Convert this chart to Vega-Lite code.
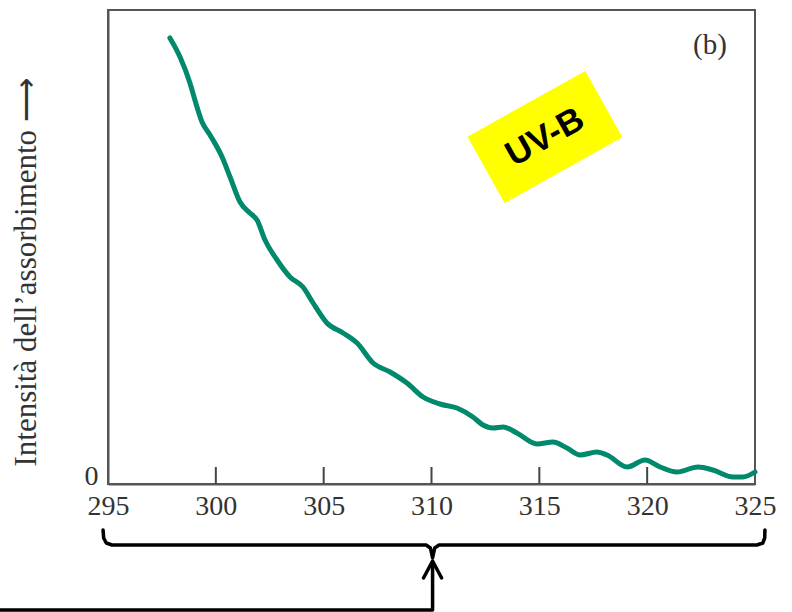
{
  "$schema": "https://vega.github.io/schema/vega-lite/v6.json",
  "width": 647,
  "height": 474,
  "autosize": {"type": "none"},
  "padding": {"left": 108, "top": 10, "right": 37, "bottom": 128},
  "background": "white",
  "view": {"stroke": "#555555", "strokeWidth": 2},
  "config": {"font": "Liberation Serif"},
  "datasets": {
    "curve": [
      {"wl": 297.87, "abs": 446}, {"wl": 298.34, "abs": 427}, {"wl": 298.80, "abs": 401},
      {"wl": 299.03, "abs": 384}, {"wl": 299.36, "abs": 362}, {"wl": 299.73, "abs": 349},
      {"wl": 300.29, "abs": 327}, {"wl": 300.66, "abs": 307}, {"wl": 301.12, "abs": 282},
      {"wl": 301.58, "abs": 271}, {"wl": 301.91, "abs": 264}, {"wl": 302.28, "abs": 244},
      {"wl": 302.84, "abs": 224}, {"wl": 303.44, "abs": 207}, {"wl": 304.04, "abs": 197},
      {"wl": 304.51, "abs": 181}, {"wl": 305.15, "abs": 161}, {"wl": 305.90, "abs": 151},
      {"wl": 306.55, "abs": 141}, {"wl": 307.29, "abs": 121}, {"wl": 308.08, "abs": 112},
      {"wl": 308.86, "abs": 101}, {"wl": 309.61, "abs": 87}, {"wl": 310.39, "abs": 80},
      {"wl": 311.18, "abs": 76}, {"wl": 311.92, "abs": 67}, {"wl": 312.39, "abs": 59},
      {"wl": 312.85, "abs": 56}, {"wl": 313.32, "abs": 57}, {"wl": 313.96, "abs": 51},
      {"wl": 314.89, "abs": 40}, {"wl": 315.63, "abs": 42}, {"wl": 316.28, "abs": 36},
      {"wl": 316.89, "abs": 29}, {"wl": 317.67, "abs": 32}, {"wl": 318.14, "abs": 29},
      {"wl": 319.07, "abs": 17}, {"wl": 319.90, "abs": 24}, {"wl": 320.60, "abs": 17},
      {"wl": 321.38, "abs": 12}, {"wl": 322.36, "abs": 17}, {"wl": 323.05, "abs": 14},
      {"wl": 323.98, "abs": 7}, {"wl": 324.44, "abs": 7}, {"wl": 325.00, "abs": 12}
    ],
    "ticks": [
      {"wl": 300, "lo": 0, "hi": 17}, {"wl": 305, "lo": 0, "hi": 17},
      {"wl": 310, "lo": 0, "hi": 17}, {"wl": 315, "lo": 0, "hi": 17},
      {"wl": 320, "lo": 0, "hi": 17}
    ],
    "deco": [
      {"seg": "brace", "o": 1, "wl": 294.77, "abs": -46},
      {"seg": "brace", "o": 2, "wl": 294.80, "abs": -54},
      {"seg": "brace", "o": 3, "wl": 294.92, "abs": -59},
      {"seg": "brace", "o": 4, "wl": 295.19, "abs": -61},
      {"seg": "brace", "o": 5, "wl": 309.75, "abs": -61},
      {"seg": "brace", "o": 6, "wl": 309.95, "abs": -64},
      {"seg": "brace", "o": 7, "wl": 310.05, "abs": -74},
      {"seg": "brace", "o": 8, "wl": 310.15, "abs": -64},
      {"seg": "brace", "o": 9, "wl": 310.35, "abs": -61},
      {"seg": "brace", "o": 10, "wl": 325.09, "abs": -61},
      {"seg": "brace", "o": 11, "wl": 325.36, "abs": -59},
      {"seg": "brace", "o": 12, "wl": 325.45, "abs": -54},
      {"seg": "brace", "o": 13, "wl": 325.46, "abs": -46},
      {"seg": "shaft", "o": 1, "wl": 290.0, "abs": -126},
      {"seg": "shaft", "o": 2, "wl": 310.05, "abs": -126},
      {"seg": "shaft", "o": 3, "wl": 310.05, "abs": -78},
      {"seg": "head", "o": 1, "wl": 309.63, "abs": -94},
      {"seg": "head", "o": 2, "wl": 310.05, "abs": -77},
      {"seg": "head", "o": 3, "wl": 310.47, "abs": -94}
    ],
    "labels": [
      {"wl": 315.26, "abs": 347, "text": "UV-B"}
    ],
    "panel": [
      {"wl": 322.91, "abs": 439, "text": "(b)"}
    ]
  },
  "layer": [
    {
      "data": {"name": "ticks"},
      "mark": {"type": "rule", "color": "#444444", "strokeWidth": 2},
      "encoding": {
        "x": {"field": "wl", "type": "quantitative"},
        "y": {"field": "lo", "type": "quantitative"},
        "y2": {"field": "hi"}
      }
    },
    {
      "data": {"name": "curve"},
      "mark": {"type": "line", "color": "#00896b", "strokeWidth": 5, "interpolate": "monotone", "strokeCap": "round"},
      "encoding": {
        "x": {
          "field": "wl", "type": "quantitative",
          "scale": {"domain": [295, 325], "nice": false, "zero": false},
          "axis": {
            "values": [295, 300, 305, 310, 315, 320, 325],
            "title": null, "grid": false, "ticks": false,
            "domainColor": "#555555", "domainWidth": 2,
            "labelFont": "Liberation Serif", "labelFontSize": 28, "labelColor": "#333333",
            "labelPadding": 8, "labelFlush": false
          }
        },
        "y": {
          "field": "abs", "type": "quantitative",
          "scale": {"domain": [0, 474], "nice": false},
          "axis": {
            "values": [0], "grid": false, "ticks": false,
            "domainColor": "#555555", "domainWidth": 2,
            "labelFont": "Liberation Serif", "labelFontSize": 28, "labelColor": "#333333",
            "labelPadding": 10, "labelBaseline": "alphabetic", "labelOffset": 0,
            "title": "Intensità dell’assorbimento ⟶",
            "titleFont": "Liberation Serif", "titleFontSize": 31, "titleFontWeight": "normal",
            "titleColor": "#333333", "titleAngle": -90, "titleAlign": "left",
            "titleBaseline": "alphabetic", "titleX": -73, "titleY": 456
          }
        }
      }
    },
    {
      "data": {"name": "deco"},
      "mark": {"type": "line", "color": "#000000", "strokeWidth": 3.5, "clip": false, "strokeCap": "round", "strokeJoin": "round"},
      "encoding": {
        "x": {"field": "wl", "type": "quantitative"},
        "y": {"field": "abs", "type": "quantitative"},
        "detail": {"field": "seg"},
        "order": {"field": "o", "type": "quantitative"}
      }
    },
    {
      "data": {"name": "labels"},
      "mark": {"type": "point", "shape": "M-1,-0.563L1,-0.563L1,0.563L-1,0.563Z", "size": 18225, "angle": -29.2, "filled": true, "fill": "#ffff00", "stroke": null, "opacity": 1},
      "encoding": {
        "x": {"field": "wl", "type": "quantitative"},
        "y": {"field": "abs", "type": "quantitative"}
      }
    },
    {
      "data": {"name": "labels"},
      "mark": {"type": "text", "font": "Liberation Sans", "fontWeight": "bold", "fontSize": 35, "angle": -29.2, "color": "#000000", "align": "center", "baseline": "middle"},
      "encoding": {
        "x": {"field": "wl", "type": "quantitative"},
        "y": {"field": "abs", "type": "quantitative"},
        "text": {"field": "text"}
      }
    },
    {
      "data": {"name": "panel"},
      "mark": {"type": "text", "font": "Liberation Serif", "fontSize": 29, "color": "#333333", "align": "center", "baseline": "middle"},
      "encoding": {
        "x": {"field": "wl", "type": "quantitative"},
        "y": {"field": "abs", "type": "quantitative"},
        "text": {"field": "text"}
      }
    }
  ]
}
